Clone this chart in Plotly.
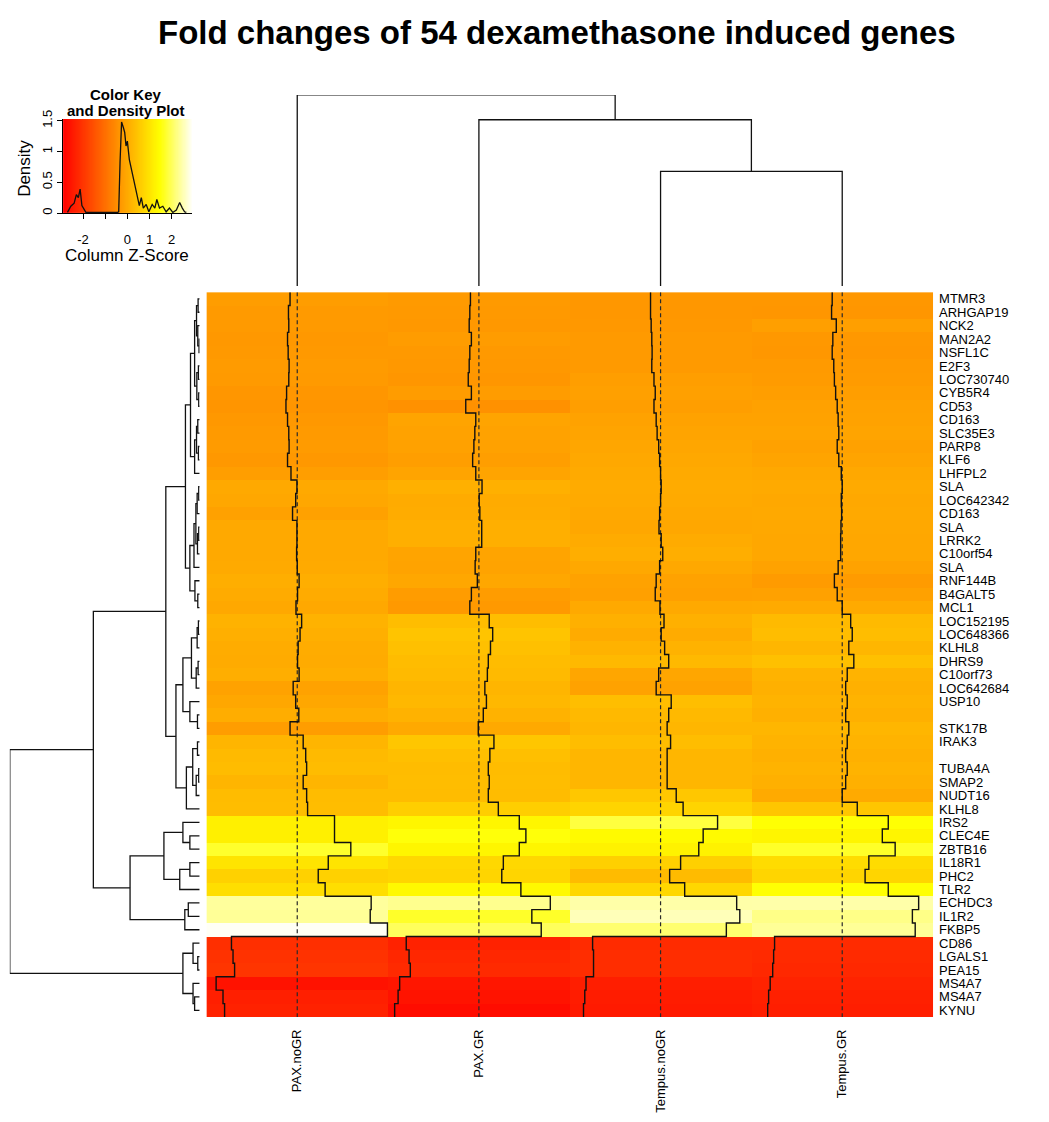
import numpy as np
import plotly.graph_objects as go

# ---------------- data ----------------
col_labels = ["PAX.noGR", "PAX.GR", "Tempus.noGR", "Tempus.GR"]
row_labels = ["MTMR3", "ARHGAP19", "NCK2", "MAN2A2", "NSFL1C", "E2F3", "LOC730740", "CYB5R4",
              "CD53", "CD163", "SLC35E3", "PARP8", "KLF6", "LHFPL2", "SLA", "LOC642342", "CD163",
              "SLA", "LRRK2", "C10orf54", "SLA", "RNF144B", "B4GALT5", "MCL1", "LOC152195",
              "LOC648366", "KLHL8", "DHRS9", "C10orf73", "LOC642684", "USP10", "", "STK17B",
              "IRAK3", "", "TUBA4A", "SMAP2", "NUDT16", "KLHL8", "IRS2", "CLEC4E", "ZBTB16",
              "IL18R1", "PHC2", "TLR2", "ECHDC3", "IL1R2", "FKBP5", "CD86", "LGALS1", "PEA15",
              "MS4A7", "MS4A7", "KYNU"]

# column z-scores, one list per column (rows top to bottom)
z_pax_nogr = [-0.23, -0.28, -0.27, -0.31, -0.29, -0.26, -0.27, -0.34, -0.36, -0.31, -0.27, -0.26,
              -0.31, -0.20, -0.01, -0.05, -0.15, -0.01, -0.01, -0.02, 0.00, 0.06, 0.01, -0.04,
              0.14, 0.09, 0.03, 0.01, 0.06, -0.13, -0.05, 0.05, -0.23, 0.19, 0.27, 0.30, 0.19,
              0.30, 0.33, 1.19, 1.19, 1.71, 0.99, 0.67, 0.89, 2.36, 2.33, 2.88, -2.10, -2.05,
              -2.00, -2.59, -2.37, -2.32]
z_pax_gr = [-0.27, -0.29, -0.31, -0.24, -0.29, -0.31, -0.34, -0.24, -0.42, -0.10, -0.13, -0.16,
            -0.20, -0.10, 0.10, 0.01, 0.03, 0.09, 0.09, -0.10, -0.12, -0.05, -0.24, -0.29,
            0.33, 0.44, 0.37, 0.30, 0.27, 0.19, 0.24, 0.14, -0.02, 0.48, 0.35, 0.30, 0.33,
            0.30, 0.62, 1.29, 1.50, 1.29, 0.78, 0.73, 1.34, 2.28, 1.69, 1.99, -2.32, -2.23,
            -2.19, -2.53, -2.58, -2.69]
z_tempus_nogr = [-0.32, -0.32, -0.30, -0.28, -0.27, -0.28, -0.21, -0.17, -0.21, -0.14, -0.11,
                 -0.06, -0.03, 0.00, 0.02, 0.00, -0.03, -0.05, 0.02, 0.07, -0.03, -0.14, -0.17,
                 -0.02, 0.11, 0.02, 0.13, 0.26, -0.06, -0.14, 0.34, 0.26, 0.21, 0.32, 0.21,
                 0.21, 0.21, 0.50, 0.72, 1.82, 1.36, 1.22, 0.64, 0.29, 0.77, 2.43, 2.53, 2.10,
                 -2.17, -2.14, -2.14, -2.38, -2.42, -2.46]
z_tempus_gr = [-0.32, -0.34, -0.19, -0.30, -0.32, -0.27, -0.25, -0.21, -0.16, -0.13, -0.11,
               -0.16, -0.11, -0.03, 0.00, -0.03, -0.02, -0.04, -0.05, -0.05, -0.13, -0.25,
               -0.16, 0.00, 0.27, 0.32, 0.21, 0.37, 0.16, 0.11, 0.16, 0.11, 0.21, 0.16, 0.11,
               0.16, 0.11, 0.00, 0.48, 1.47, 1.28, 1.69, 0.85, 0.73, 1.47, 2.44, 2.24, 2.33,
               -2.16, -2.19, -2.22, -2.30, -2.35, -2.38]

z_limit = 2.9  # symmetric colour breaks

# density of z-scores shown in the colour key
dens_z = [-2.70, -2.55, -2.40, -2.30, -2.21, -2.13, -2.05, -1.98, -1.87, -0.44, -0.39, -0.33,
          -0.26, -0.18, -0.12, -0.06, 0.00, 0.09, 0.18, 0.27, 0.36, 0.45, 0.54, 0.63, 0.72,
          0.85, 0.97, 1.12, 1.24, 1.33, 1.45, 1.60, 1.75, 1.90, 2.05, 2.21, 2.36, 2.48, 2.58,
          2.66]
dens_y = [0.01, 0.11, 0.16, 0.30, 0.25, 0.39, 0.12, 0.08, 0.01, 0.01, 0.02, 0.82, 1.48, 1.39,
          1.31, 1.09, 1.17, 0.87, 0.71, 0.55, 0.45, 0.27, 0.12, 0.25, 0.08, 0.14, 0.02, 0.14,
          0.08, 0.22, 0.08, 0.11, 0.02, 0.08, 0.01, 0.05, 0.17, 0.08, 0.02, 0.01]

# row dendrogram merges (hclust style: negative = leaf row number, positive = earlier merge)
row_merges = [(-4, -5, 0.02), (-3, 1, 0.06), (-1, -2, 0.05), (3, 2, 0.10), (-6, -7, 0.04),
              (-8, -9, 0.03), (5, 6, 0.09), (4, 7, 0.16), (-10, -11, 0.06), (-12, -13, 0.04),
              (9, 10, 0.10), (11, -14, 0.16), (8, 12, 0.29), (-15, -16, 0.03), (14, -17, 0.08),
              (-18, -19, 0.03), (16, -20, 0.07), (15, 17, 0.12), (18, -21, 0.18), (-23, -24, 0.06),
              (-22, 20, 0.15), (19, 21, 0.31), (13, 22, 0.45), (-25, -26, 0.04), (24, -27, 0.08),
              (-28, -29, 0.05), (26, -30, 0.11), (25, 27, 0.26), (-32, -33, 0.07), (-31, 29, 0.31),
              (28, 30, 0.53), (-34, -35, 0.07), (-36, -37, 0.03), (33, -38, 0.11), (32, 34, 0.22),
              (35, -39, 0.42), (31, 36, 0.75), (23, 37, 1.07), (-41, -42, 0.31), (-40, 39, 0.53),
              (-43, -44, 0.31), (41, -45, 0.63), (40, 42, 1.13), (-46, -47, 0.36), (44, -48, 0.47),
              (43, 45, 2.20), (38, 46, 3.36), (-50, -51, 0.06), (-49, 48, 0.21), (-53, -54, 0.16),
              (-52, 50, 0.21), (49, 51, 0.53), (47, 52, 6.00)]

# column dendrogram merges
col_merges = [(-3, -4, 6.0), (-2, 1, 8.7), (-1, 2, 10.0)]

# ---------------- helpers ----------------
W, H = 1049, 1122
# placement in target-picture pixels, corrected for the page offset/scale seen when photographed
SX, OX = 0.9954, 9.2
SY, OY = 0.989, 17.2
def px(x):
    return min(1.0, max(0.0, ((x - OX) / SX) / W))
def py(y):
    return min(1.0, max(0.0, 1 - ((y - OY) / SY) / H))

def dendro_lines(merges):
    pos, hts = {}, {}
    a_list, h_list = [], []
    def get(c):
        if c < 0:
            return -c - 1, 0.0
        return pos[c], hts[c]
    for k, (a, b, h) in enumerate(merges, start=1):
        pa, ha = get(a)
        pb, hb = get(b)
        a_list += [pa, pa, pb, pb, None]
        h_list += [ha, h, h, hb, None]
        pos[k] = (pa + pb) / 2
        hts[k] = h
    return a_list, h_list

Z = np.array([z_pax_nogr, z_pax_gr, z_tempus_nogr, z_tempus_gr]).T
n_rows = len(row_labels)
heat_cs = [[0.0, "#FF0000"], [0.75, "#FFFF00"], [1.0, "#FFFFF8"]]

fig = go.Figure()

# heatmap
fig.add_trace(go.Heatmap(z=Z, x=list(range(4)), y=list(range(n_rows)), colorscale=heat_cs,
                         zmin=-z_limit, zmax=z_limit, showscale=False, hoverinfo="skip",
                         xaxis="x", yaxis="y"))

# dashed centre lines and traces
for j in range(4):
    fig.add_trace(go.Scatter(x=[j, j], y=[-0.5, n_rows - 0.5], mode="lines",
                             line=dict(color="#2a2a2a", width=1.2, dash="4px,3px"),
                             xaxis="x", yaxis="y", showlegend=False, hoverinfo="skip"))
    col = Z[:, j]
    xs = [j + col[0] / (2 * z_limit)] + [j + v / (2 * z_limit) for v in col]
    ys = [-0.5] + [i + 0.5 for i in range(n_rows)]
    fig.add_trace(go.Scatter(x=xs, y=ys, mode="lines", line=dict(color="#111111", width=1.4, shape="hv"),
                             xaxis="x", yaxis="y", showlegend=False, hoverinfo="skip"))

# row dendrogram
rp, rh = dendro_lines(row_merges)
fig.add_trace(go.Scatter(x=rh, y=rp, mode="lines", line=dict(color="#111111", width=1.3),
                         xaxis="x2", yaxis="y2", showlegend=False, hoverinfo="skip", cliponaxis=False))

# column dendrogram
cp, ch = dendro_lines(col_merges)
fig.add_trace(go.Scatter(x=cp, y=ch, mode="lines", line=dict(color="#111111", width=1.3),
                         xaxis="x3", yaxis="y3", showlegend=False, hoverinfo="skip", cliponaxis=False))

# colour key
key_edges = np.linspace(-z_limit, z_limit, 241)
key_centres = (key_edges[:-1] + key_edges[1:]) / 2
fig.add_trace(go.Heatmap(z=[key_centres], x=key_edges, y=[0, 1.53], colorscale=heat_cs,
                         zmin=-z_limit, zmax=z_limit, showscale=False, hoverinfo="skip",
                         xaxis="x4", yaxis="y4"))
fig.add_trace(go.Scatter(x=dens_z, y=dens_y, mode="lines", line=dict(color="#111111", width=1.3),
                         xaxis="x4", yaxis="y4", showlegend=False, hoverinfo="skip"))

font_main = "Liberation Sans, Arial, sans-serif"
hm_x = [px(206.7), px(930)]
hm_y = [py(1016), py(292)]

fig.update_layout(
    width=W, height=H, margin=dict(l=0, r=0, t=0, b=0),
    paper_bgcolor="white", plot_bgcolor="white",
    font=dict(family=font_main, color="black"),
    showlegend=False,
    xaxis=dict(domain=hm_x, range=[-0.5, 3.5], tickvals=list(range(4)), ticktext=col_labels,
               tickangle=-90, ticks="", showgrid=False, zeroline=False, showline=False,
               tickfont=dict(size=13), ticklabelstandoff=9, anchor="y"),
    yaxis=dict(domain=hm_y, range=[n_rows - 0.5, -0.5], tickvals=list(range(n_rows)),
               ticktext=row_labels, side="right", ticks="", showgrid=False, zeroline=False,
               showline=False, tickfont=dict(size=13), ticklabelstandoff=5, anchor="x"),
    xaxis2=dict(domain=[px(11), px(200)], range=[6.0, 0.0], visible=False, anchor="y2"),
    yaxis2=dict(domain=hm_y, range=[n_rows - 0.5, -0.5], visible=False, anchor="x2"),
    xaxis3=dict(domain=hm_x, range=[-0.5, 3.5], visible=False, anchor="y3"),
    yaxis3=dict(domain=[py(286), py(95)], range=[0, 10.0], visible=False, anchor="x3"),
    xaxis4=dict(domain=[px(64), px(192)], range=[-z_limit, z_limit], tickvals=[-2, -1, 0, 1, 2],
                ticktext=["-2", "", "0", "1", "2"], ticks="outside", ticklen=5, tickcolor="black",
                showline=True, linecolor="black", showgrid=False, zeroline=False,
                tickfont=dict(size=13), ticklabelstandoff=9, anchor="y4"),
    yaxis4=dict(domain=[py(213), py(119)], range=[0, 1.53], tickvals=[0, 0.5, 1, 1.5],
                ticktext=["0", "0.5", "1", "1.5"], ticks="outside", ticklen=5, tickcolor="black",
                tickangle=-90, showline=True, linecolor="black", showgrid=False, zeroline=False,
                tickfont=dict(size=13), anchor="x4"),
    annotations=[
        dict(text="<b>Fold changes of 54 dexamethasone induced genes</b>", x=px(556), y=py(33),
             xref="paper", yref="paper", showarrow=False, xanchor="center", yanchor="middle",
             font=dict(size=33, family=font_main)),
        dict(text="<b>Color Key</b>", x=px(127), y=py(95), xref="paper",
             yref="paper", showarrow=False, xanchor="center", yanchor="middle",
             font=dict(size=15, family=font_main)),
        dict(text="<b>and Density Plot</b>", x=px(127), y=py(111), xref="paper",
             yref="paper", showarrow=False, xanchor="center", yanchor="middle",
             font=dict(size=15, family=font_main)),
        dict(text="Density", x=px(26), y=py(168), xref="paper", yref="paper", showarrow=False,
             textangle=-90, xanchor="center", yanchor="middle", font=dict(size=17, family=font_main)),
        dict(text="Column Z-Score", x=px(128), y=py(255), xref="paper", yref="paper", showarrow=False,
             xanchor="center", yanchor="middle", font=dict(size=17, family=font_main)),
    ],
)

fig.write_html("out.html")
